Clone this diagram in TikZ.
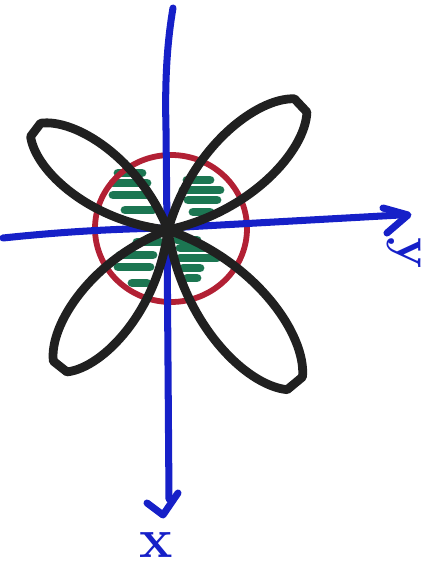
\documentclass[tikz,border=0pt]{standalone}
\usetikzlibrary{calc}
\definecolor{penblue}{RGB}{22,32,200}
\definecolor{penred}{RGB}{178,32,52}
\definecolor{pengreen}{RGB}{28,118,82}
\definecolor{penblack}{RGB}{32,32,32}
\tikzset{
  axisline/.style={penblue, line width=4pt, line cap=round, line join=round},
  petalline/.style={penblack, line width=5pt, line cap=round, line join=round},
  circleline/.style={penred, line width=3.3pt},
  hatchline/.style={pengreen, line width=5pt, line cap=round},
}
\newcommand{\petal}[3]{% angle, length, center
  \begin{scope}[shift={#3}, rotate=#1]
    \draw[petalline] (0,0) .. controls ({0.4*#2},{0.24*#2}) and ({0.85*#2},{0.2*#2}) .. ({#2},{0.05*#2})
      -- ({#2},{-0.05*#2}) .. controls ({0.85*#2},{-0.2*#2}) and ({0.4*#2},{-0.24*#2}) .. (0,0);
  \end{scope}}
\begin{document}
\begin{tikzpicture}[x=0.02cm, y=0.02cm]
\useasboundingbox (0,0) rectangle (446,569);
% hatching
\foreach \y/\a/\b in {396/118/142, 386/113/147, 374/113/148, 359/125/153,
                      389/187/210, 379/183/220, 369/188/217, 357/193/210,
                      327/137/160, 314/120/153, 302/118/150, 286/132/147,
                      329/177/197, 321/180/207, 311/180/217, 301/183/200, 291/187/197}
  \draw[hatchline] (\a,\y) -- (\b,\y);
% red circle
\draw[circleline] (171,340.5) ellipse [x radius=76, y radius=73.5];
% axes
\coordinate (vtop) at (173,561);
\coordinate (vtip) at (163,54);
\coordinate (hleft) at (3,331);
\coordinate (htip) at (408,354);
\draw[axisline] (vtop) .. controls (166,520) and (165,480) .. (166,440) -- (167,341) -- (169,70);
\draw[axisline] (147,66) -- (vtip) -- (178,76);
\draw[axisline] (hleft) .. controls (60,337) and (110,340) .. (167,341) -- (400,354);
\draw[axisline] (383,361) -- (htip) -- (387,336);
% petals
\petal{142.9}{166}{(168,339)}
\petal{43.2}{182}{(168,339)}
\petal{231.7}{174}{(168,339)}
\petal{309.6}{199}{(168,339)}
% labels
\node[penblue, font=\fontsize{32}{32}\selectfont\bfseries, inner sep=0pt] (xlab) at (156,24) {x};
\node[penblue, font=\fontsize{30}{30}\selectfont\bfseries, rotate=-90, inner sep=0pt] (ylab) at (404,316) {y};
\end{tikzpicture}
\end{document}
